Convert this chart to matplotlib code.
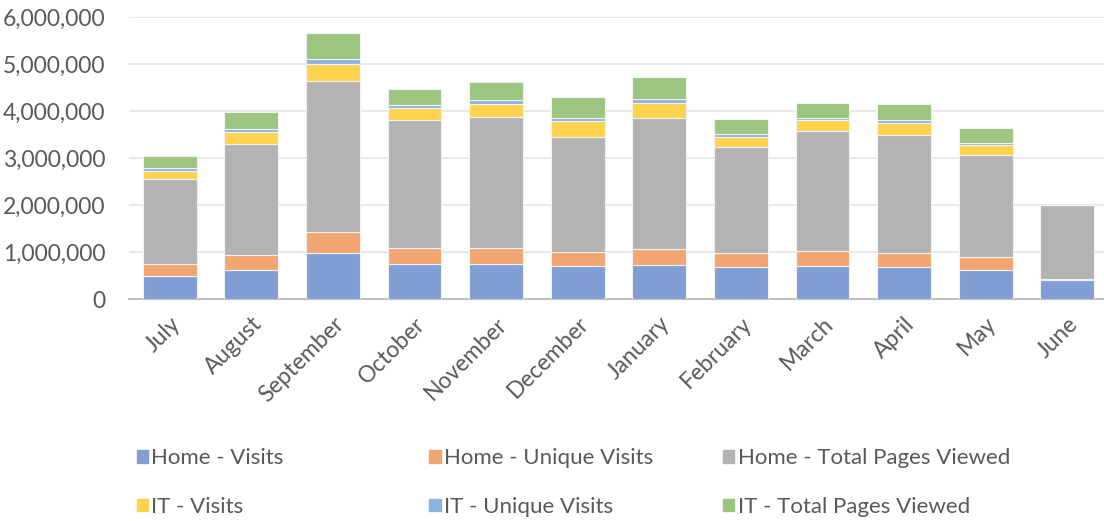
import numpy as np
import matplotlib
matplotlib.use("Agg")
from matplotlib import pyplot as plt
from matplotlib.patches import Patch
from matplotlib.ticker import FuncFormatter

months = ["July", "August", "September", "October", "November", "December",
          "January", "February", "March", "April", "May", "June"]

# values (page views / visits)
home_visits = [500000, 630000, 980000, 760000, 760000, 715000,
               730000, 690000, 715000, 690000, 630000, 420000]
home_unique = [250000, 320000, 460000, 330000, 330000, 300000,
               350000, 300000, 310000, 290000, 260000, 10000]
home_pages = [1810000, 2350000, 3200000, 2730000, 2790000, 2440000,
              2780000, 2240000, 2560000, 2520000, 2170000, 1580000]
it_visits = [180000, 260000, 370000, 260000, 280000, 330000,
             320000, 220000, 220000, 250000, 220000, 0]
it_unique = [50000, 60000, 100000, 60000, 70000, 80000,
             80000, 70000, 60000, 60000, 40000, 0]
it_pages = [260000, 370000, 550000, 340000, 390000, 440000,
            480000, 310000, 310000, 350000, 330000, 0]

series = [
    ("Home - Visits", home_visits, "#7f9fd5"),
    ("Home - Unique Visits", home_unique, "#f1a570"),
    ("Home - Total Pages Viewed", home_pages, "#b3b3b3"),
    ("IT - Visits", it_visits, "#ffd34d"),
    ("IT - Unique Visits", it_unique, "#8cb5e0"),
    ("IT - Total Pages Viewed", it_pages, "#9cc57f"),
]

plt.rcParams['font.family'] = ['Lato', 'DejaVu Sans']
txt_col = "#595959"

fig = plt.figure(figsize=(11.04, 5.21), dpi=100)
ax = fig.add_axes([0.1168, 0.4255, 0.8832, 0.5413])

x = np.arange(len(months))
bottom = np.zeros(len(months))
for name, vals, col in series:
    vals = np.array(vals, dtype=float)
    ax.bar(x, vals, 0.66, bottom=bottom, color=col, edgecolor="#f2f2f2",
           linewidth=0.8, label=name, zorder=3)
    bottom += vals

ax.set_ylim(0, 6000000)
ax.set_xlim(-0.5, 11.45)
ax.set_yticks(np.arange(0, 6000001, 1000000))
ax.yaxis.set_major_formatter(FuncFormatter(lambda v, p: "{:,.0f}".format(v)))
ax.grid(axis="y", color="#e6e6e6", linewidth=1.3, zorder=0)
for s in ["top", "right", "left"]:
    ax.spines[s].set_visible(False)
ax.spines["bottom"].set_color("#bfbfbf")
ax.spines["bottom"].set_linewidth(1.5)
ax.tick_params(axis="both", length=0, labelsize=16.5, labelcolor=txt_col)
ax.tick_params(axis="y", pad=17)
ax.set_xticks(x)
ax.set_xticklabels(months, rotation=45, ha="right", rotation_mode="anchor")
ax.tick_params(axis="x", pad=10)

# legend: three columns, each a separate legend so the spacing is even
col_x = [0.124, 0.389, 0.655]
for i, cx in enumerate(col_x):
    h = [Patch(color=series[i][2]), Patch(color=series[i + 3][2])]
    l = [series[i][0], series[i + 3][0]]
    fig.legend(h, l, loc="upper left", bbox_to_anchor=(cx, 0.14),
               frameon=False, fontsize=16, handlelength=0.5, handleheight=0.5,
               handletextpad=0.15, labelspacing=1.3, labelcolor=txt_col,
               borderaxespad=0, borderpad=0)

fig.savefig("out.png", dpi=100)
